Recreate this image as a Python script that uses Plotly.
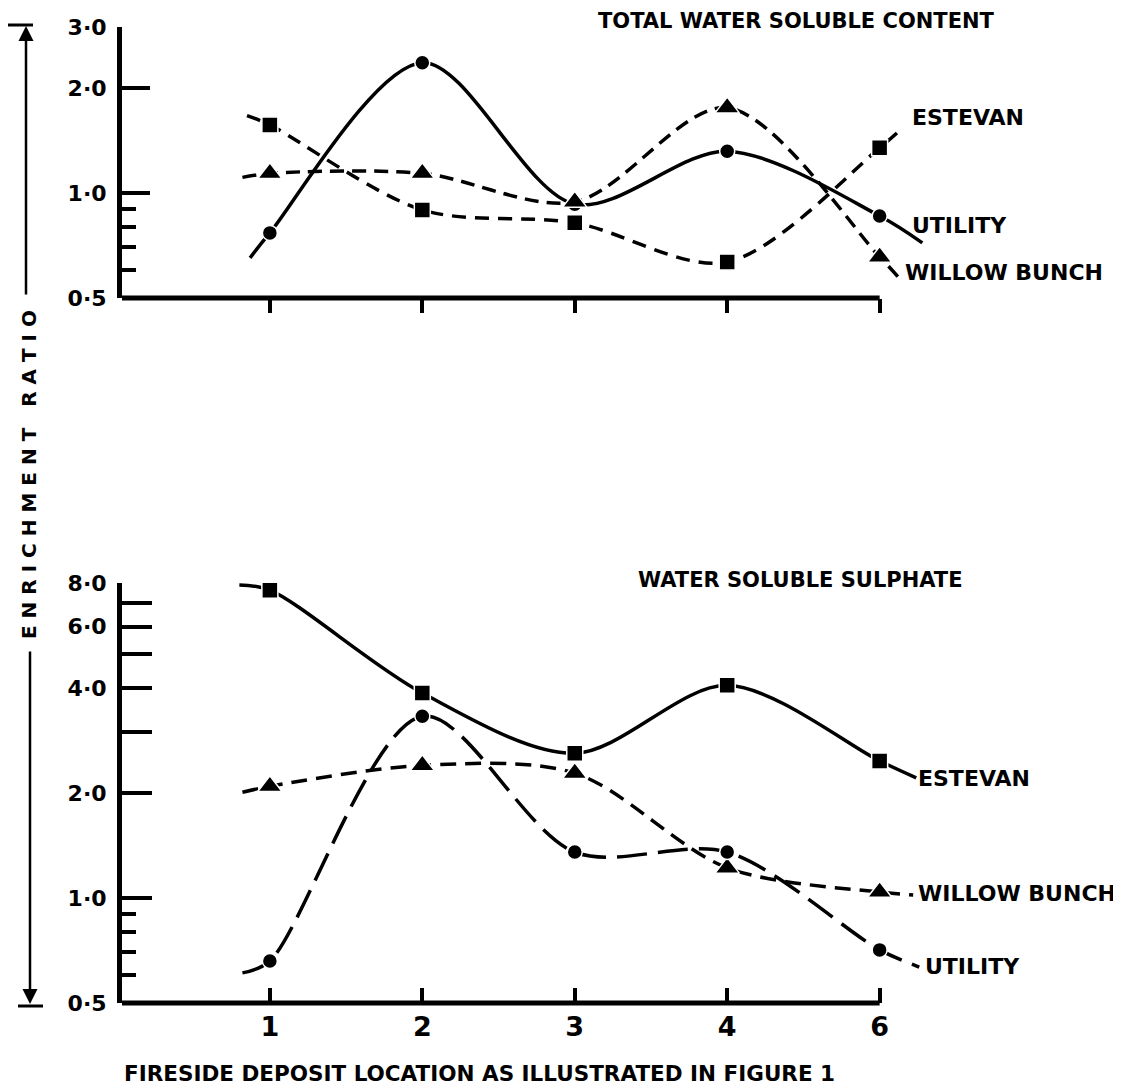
import math
import plotly.graph_objects as go

# ---------------- data ----------------
locations = ["1", "2", "3", "4", "6"]

# Top panel: total water soluble content (enrichment ratio)
top_estevan = [1.57, 0.895, 0.822, 0.634, 1.35]
top_utility = [0.769, 2.37, 0.93, 1.32, 0.86]
top_willow = [1.14, 1.14, 0.944, 1.76, 0.656]
# values where the drawn curves begin / end beyond the first / last point
top_estevan_ends = [1.67, 1.54]
top_utility_ends = [0.652, 0.72]
top_willow_ends = [1.11, 0.563]

# Bottom panel: water soluble sulphate (enrichment ratio)
bot_estevan = [7.63, 3.87, 2.60, 4.07, 2.47]
bot_utility = [0.66, 3.32, 1.354, 1.354, 0.71]
bot_willow = [2.09, 2.40, 2.28, 1.22, 1.04]
bot_estevan_ends = [7.9, 2.21]
bot_utility_ends = [0.61, 0.634]
bot_willow_ends = [2.01, 1.02]

top_tickvals = [0.5, 1.0, 2.0, 3.0]
top_ticktext = ["0·5", "1·0", "2·0", "3·0"]
top_minor = [0.6, 0.7, 0.8, 0.9]
bot_tickvals = [0.5, 1, 2, 3, 4, 5, 6, 7, 8]
bot_ticktext = ["0·5", "1·0", "2·0", "", "4·0", "", "6·0", "", "8·0"]
bot_minor = [0.6, 0.7, 0.8, 0.9]

# ---------------- layout constants ----------------
W, H = 1121, 1091
OFF = 8  # page body margin: figure is drawn 8px right/down of the window origin
L, R = 122 - OFF, 933 - OFF
XMIN, XMAX = -0.97, 4.35
FONT = "DejaVu Sans"


def py(ypx):
    # ypx given in window pixels
    return 1 - (ypx - OFF) / H


def px(xpx):
    # paper x runs across the plotting area (inside the margins); xpx in window pixels
    return (xpx - OFF - L) / (R - L)


idx = list(range(len(locations)))
last = idx[-1]

fig = go.Figure()


def add_series(vals, ends, off_in, off_out, dash, symbol, msize, xa, ya):
    xs = [idx[0] - off_in] + idx + [last + off_out]
    ys = [ends[0]] + vals + [ends[1]]
    fig.add_trace(go.Scatter(
        x=xs, y=ys, mode="lines", xaxis=xa, yaxis=ya,
        line=dict(color="black", width=3.5, dash=dash, shape="spline", smoothing=0.9),
        hoverinfo="skip", showlegend=False))
    fig.add_trace(go.Scatter(
        x=idx, y=vals, mode="markers", xaxis=xa, yaxis=ya,
        marker=dict(color="black", symbol=symbol, size=msize,
                    line=dict(color="white", width=1.5)),
        showlegend=False, cliponaxis=False))


# top panel
add_series(top_utility, top_utility_ends, 0.13, 0.28, "solid", "circle", 15, "x", "y")
add_series(top_estevan, top_estevan_ends, 0.15, 0.15, "14px,9px", "square", 16, "x", "y")
add_series(top_willow, top_willow_ends, 0.18, 0.14, "14px,8px", "triangle-up", 21, "x", "y")
# bottom panel
add_series(bot_estevan, bot_estevan_ends, 0.20, 0.24, "solid", "square", 16, "x2", "y2")
add_series(bot_willow, bot_willow_ends, 0.18, 0.22, "16px,9px", "triangle-up", 21, "x2", "y2")
add_series(bot_utility, bot_utility_ends, 0.18, 0.26, "30px,11px", "circle", 15, "x2", "y2")

tickfont = dict(family=FONT, size=22, color="black", weight="bold")

xcommon = dict(range=[XMIN, XMAX], tickmode="array", tickvals=idx, showgrid=False,
               zeroline=False, showline=False, tickwidth=4, tickcolor="black",
               automargin=False)

fig.update_layout(
    width=W, height=H,
    margin=dict(l=L, r=W - R, t=0, b=0, autoexpand=False),
    paper_bgcolor="white", plot_bgcolor="white",
    showlegend=False,
    xaxis=dict(**xcommon, anchor="y", ticks="outside", ticklen=14, showticklabels=False),
    xaxis3=dict(**xcommon, anchor="y", overlaying="x", ticks="inside", ticklen=16,
                showticklabels=False),
    xaxis2=dict(**xcommon, anchor="y2", ticks="inside", ticklen=15, ticktext=locations,
                showticklabels=True, ticklabelstandoff=5,
                tickfont=dict(family=FONT, size=27, color="black", weight="bold")),
    yaxis=dict(type="log", range=[math.log10(0.5), math.log10(3.0)],
               domain=[py(298), py(27)], anchor="x",
               tickmode="array", tickvals=top_tickvals, ticktext=top_ticktext,
               ticks="inside", ticklen=28, tickwidth=4, tickcolor="black",
               showline=True, linewidth=5, linecolor="black", showgrid=False,
               zeroline=False, tickfont=tickfont, ticklabelstandoff=6, automargin=False,
               minor=dict(tickmode="array", tickvals=top_minor, ticks="inside",
                          ticklen=14, tickwidth=4, tickcolor="black", showgrid=False)),
    yaxis2=dict(type="log", range=[math.log10(0.5), math.log10(8.0)],
                domain=[py(1003), py(583)], anchor="x2",
                tickmode="array", tickvals=bot_tickvals, ticktext=bot_ticktext,
                ticks="inside", ticklen=30, tickwidth=4, tickcolor="black",
                showline=True, linewidth=5, linecolor="black", showgrid=False,
                zeroline=False, tickfont=tickfont, ticklabelstandoff=6, automargin=False,
                minor=dict(tickmode="array", tickvals=bot_minor, ticks="inside",
                           ticklen=14, tickwidth=4, tickcolor="black", showgrid=False)),
)

# x axis lines ending at the last location
for xr, ypx in (("x", 298), ("x2", 1003)):
    fig.add_shape(type="line", xref=xr, yref="paper", x0=XMIN, x1=last,
                  y0=py(ypx), y1=py(ypx), line=dict(color="black", width=5))

# y-axis title arrows and bars
fig.add_annotation(x=px(26), y=py(26), xref="paper", yref="paper", ax=0, ay=270,
                   text="", showarrow=True, arrowhead=2, arrowsize=1.2, arrowwidth=2.5,
                   arrowcolor="black")
fig.add_annotation(x=px(30), y=py(1004), xref="paper", yref="paper", ax=0, ay=-354,
                   text="", showarrow=True, arrowhead=2, arrowsize=1.2, arrowwidth=2.5,
                   arrowcolor="black")
fig.add_shape(type="line", xref="paper", yref="paper", x0=px(8), x1=px(33),
              y0=py(25), y1=py(25), line=dict(color="black", width=3))
fig.add_shape(type="line", xref="paper", yref="paper", x0=px(18), x1=px(43),
              y0=py(1006), y1=py(1006), line=dict(color="black", width=3))

NB = "\u00a0"
ytitle = (NB * 3).join(NB.join(w) for w in ["ENRICHMENT", "RATIO"])
fig.add_annotation(x=px(29), y=py(475), xref="paper", yref="paper", text=ytitle,
                   textangle=-90, showarrow=False, xanchor="center", yanchor="middle",
                   font=dict(family=FONT, size=20, color="black", weight="bold"))


def label(text, xpx, ypx, size=22, anchor="left"):
    fig.add_annotation(x=px(xpx), y=py(ypx), xref="paper", yref="paper", text=text,
                       showarrow=False, xanchor=anchor, yanchor="middle",
                       font=dict(family=FONT, size=size, color="black", weight="bold"))


label("TOTAL WATER SOLUBLE CONTENT", 796, 21, size=21, anchor="center")
label("WATER SOLUBLE SULPHATE", 800, 580, size=21, anchor="center")
label("ESTEVAN", 910, 117)
label("UTILITY", 910, 226)
label("WILLOW BUNCH", 903, 272)
label("ESTEVAN", 916, 778)
label("WILLOW BUNCH", 916, 893)
label("UTILITY", 923, 966)
label("FIRESIDE DEPOSIT LOCATION AS ILLUSTRATED IN FIGURE 1", 479, 1073, size=21.5,
      anchor="center")

fig.write_html("out.html")
